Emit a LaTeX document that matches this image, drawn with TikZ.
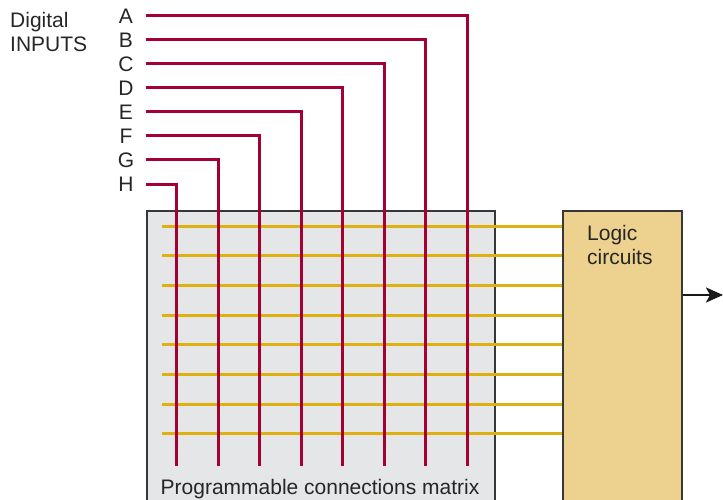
\documentclass[tikz,border=0pt]{standalone}
\usepackage{fontspec}
\setmainfont{Liberation Sans}
\usetikzlibrary{positioning,arrows.meta}
\definecolor{wirered}{RGB}{165, 0, 52}
\definecolor{wireyellow}{RGB}{224, 176, 16}
\definecolor{matrixgray}{RGB}{229, 230, 232}
\definecolor{logicsand}{RGB}{237, 209, 142}
\definecolor{edgegray}{RGB}{55, 55, 55}

\begin{document}
\begin{tikzpicture}[
    x=1pt, y=-1pt,
    font=\fontsize{21}{24}\selectfont,
    block/.style={draw=edgegray, line width=1.5pt, rectangle, anchor=north west,
                  minimum width=#1, minimum height=310pt, inner sep=0pt},
    inwire/.style={draw=wirered, line width=3pt},
    rowwire/.style={draw=wireyellow, line width=3pt},
    letter/.style={minimum width=40pt, inner sep=0pt},
    txt/.style={anchor=north west, inner sep=0pt, align=left, text=black!85},
  ]
    \path[use as bounding box, clip] (0,0) rectangle (723,500);

    % Matrix and logic blocks
    \node[block=348pt, fill=matrixgray] (matrix) at (146,210) {};
    \node[block=119pt, fill=logicsand] (logic) at (562,210) {};

    % Rows into the logic circuits
    \foreach \j in {0,...,7} {
      \coordinate (row\j) at (162,226+29.71*\j);
      \draw[rowwire] (row\j) -- (row\j -| logic.west);
    }

    % Digital inputs A..H
    \foreach \inp [count=\i, evaluate=\i as \yy using 16+24*(\i-1),
                   evaluate=\i as \xx using 467-41.43*(\i-1)] in {A,B,C,D,E,F,G,H} {
      \node[letter, text=black!85] (in\inp) at (126,\yy) {\inp};
      \coordinate (turn\inp) at (\xx,\yy);
      \coordinate (end\inp) at (\xx,466);
      \draw[inwire] (in\inp.east) -- (turn\inp) -- (end\inp);
    }

    % Labels
    \node[txt] (digital) at (10,12.5) {Digital\\INPUTS};
    \node[txt] (logictxt) at (587,225.5) {Logic\\circuits};
    \node[anchor=base, inner sep=0pt, text=black!85] (matrixtxt) at (320,494)
      {Programmable connections matrix};

    % Output
    \coordinate (out) at (723,295);
    \draw[-{Stealth[length=17pt, width=15pt, inset=4pt]}, line width=2.5pt, black!90]
      (logic.east |- out) -- (out);
  \end{tikzpicture}
\end{document}
